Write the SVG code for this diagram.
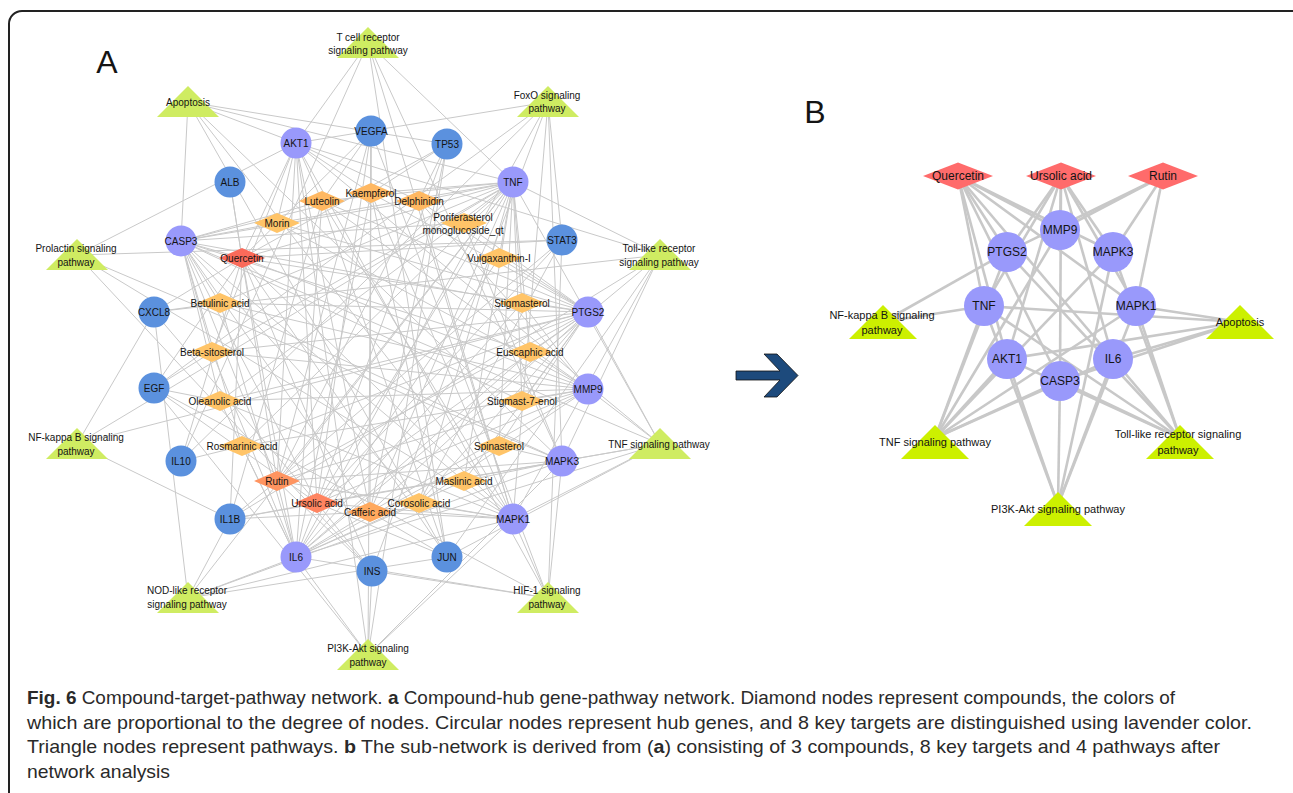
<svg xmlns="http://www.w3.org/2000/svg" xmlns:xlink="http://www.w3.org/1999/xlink" width="1293" height="793" viewBox="0 0 1293 793">
<style>
.e line{stroke:#c9c9c9;stroke-width:1}
.eb line{stroke:#c8c8c8;stroke-width:2.6}
.g{fill:#5b91de}.l{fill:#9999fb}.p{fill:#cfec62}.pb{fill:#ccf000}.cb{fill:#ff6b6b}
.c0{fill:#ffc468}.c1{fill:#ffb862}.c2{fill:#ffa95e}.c3{fill:#ff9460}.c4{fill:#ff8460}.c5{fill:#fa6a5a}
text{font-family:"Liberation Sans",Arial,sans-serif;fill:#141414;text-anchor:middle}
.a text{font-size:10px}
.b text{font-size:12px}
.b .pl{font-size:11px}
.cap{font-size:19px;fill:#2a2a2a;text-anchor:start}
</style>
<defs>
<polygon id="da" points="-23,0 0,-10 23,0 0,10"/>
<polygon id="ta" points="0,-16 31,15 -31,15"/>
<polygon id="db" points="-35,0 0,-13.5 35,0 0,13.5"/>
<polygon id="tb" points="0,-17 34,17 -34,17"/>
</defs>
<rect x="9" y="11" width="1300" height="800" rx="13" fill="#fff" stroke="#222" stroke-width="2"/>
<text x="107" y="73" style="font-size:32px">A</text>
<text x="815" y="123" style="font-size:32px">B</text>
<g id="connectors-A" class="e">
<line x1="368" y1="43" x2="296" y2="143"/><line x1="368" y1="43" x2="513" y2="182"/><line x1="368" y1="43" x2="181" y2="461"/><line x1="368" y1="43" x2="447" y2="557"/><line x1="368" y1="43" x2="513" y2="519"/><line x1="368" y1="43" x2="562" y2="461"/>
<line x1="188" y1="102" x2="296" y2="143"/><line x1="188" y1="102" x2="181" y2="241"/><line x1="188" y1="102" x2="513" y2="182"/><line x1="188" y1="102" x2="447" y2="144"/><line x1="188" y1="102" x2="447" y2="557"/><line x1="188" y1="102" x2="513" y2="519"/><line x1="188" y1="102" x2="562" y2="461"/>
<line x1="548" y1="102" x2="296" y2="143"/><line x1="548" y1="102" x2="154" y2="388"/><line x1="548" y1="102" x2="296" y2="557"/><line x1="548" y1="102" x2="181" y2="461"/><line x1="548" y1="102" x2="372" y2="571"/><line x1="548" y1="102" x2="513" y2="519"/><line x1="548" y1="102" x2="562" y2="461"/><line x1="548" y1="102" x2="562" y2="240"/>
<line x1="77" y1="255" x2="296" y2="143"/><line x1="77" y1="255" x2="562" y2="240"/><line x1="77" y1="255" x2="513" y2="519"/><line x1="77" y1="255" x2="562" y2="461"/><line x1="77" y1="255" x2="372" y2="571"/>
<line x1="77" y1="444" x2="154" y2="312"/><line x1="77" y1="444" x2="513" y2="182"/><line x1="77" y1="444" x2="588" y2="312"/><line x1="77" y1="444" x2="230" y2="519"/>
<line x1="660" y1="444" x2="513" y2="182"/><line x1="660" y1="444" x2="296" y2="557"/><line x1="660" y1="444" x2="230" y2="519"/><line x1="660" y1="444" x2="588" y2="312"/><line x1="660" y1="444" x2="588" y2="389"/><line x1="660" y1="444" x2="513" y2="519"/><line x1="660" y1="444" x2="562" y2="461"/><line x1="660" y1="444" x2="181" y2="241"/><line x1="660" y1="444" x2="296" y2="143"/><line x1="660" y1="444" x2="447" y2="557"/>
<line x1="660" y1="255" x2="513" y2="182"/><line x1="660" y1="255" x2="296" y2="557"/><line x1="660" y1="255" x2="230" y2="519"/><line x1="660" y1="255" x2="154" y2="312"/><line x1="660" y1="255" x2="296" y2="143"/><line x1="660" y1="255" x2="447" y2="557"/><line x1="660" y1="255" x2="513" y2="519"/><line x1="660" y1="255" x2="562" y2="461"/>
<line x1="188" y1="598" x2="154" y2="312"/><line x1="188" y1="598" x2="230" y2="519"/><line x1="188" y1="598" x2="513" y2="182"/><line x1="188" y1="598" x2="296" y2="557"/><line x1="188" y1="598" x2="513" y2="519"/><line x1="188" y1="598" x2="562" y2="461"/><line x1="188" y1="598" x2="447" y2="557"/>
<line x1="548" y1="598" x2="372" y2="571"/><line x1="548" y1="598" x2="513" y2="519"/><line x1="548" y1="598" x2="562" y2="461"/><line x1="548" y1="598" x2="296" y2="557"/><line x1="548" y1="598" x2="154" y2="388"/><line x1="548" y1="598" x2="562" y2="240"/><line x1="548" y1="598" x2="371" y2="131"/><line x1="548" y1="598" x2="296" y2="143"/>
<line x1="368" y1="655" x2="296" y2="143"/><line x1="368" y1="655" x2="372" y2="571"/><line x1="368" y1="655" x2="296" y2="557"/><line x1="368" y1="655" x2="154" y2="388"/><line x1="368" y1="655" x2="371" y2="131"/><line x1="368" y1="655" x2="513" y2="519"/><line x1="368" y1="655" x2="562" y2="461"/><line x1="368" y1="655" x2="447" y2="144"/>
<line x1="242" y1="258" x2="296" y2="143"/><line x1="242" y1="258" x2="371" y2="131"/><line x1="242" y1="258" x2="447" y2="144"/><line x1="242" y1="258" x2="513" y2="182"/><line x1="242" y1="258" x2="562" y2="240"/><line x1="242" y1="258" x2="588" y2="312"/><line x1="242" y1="258" x2="588" y2="389"/><line x1="242" y1="258" x2="513" y2="519"/><line x1="242" y1="258" x2="447" y2="557"/><line x1="242" y1="258" x2="296" y2="557"/><line x1="242" y1="258" x2="230" y2="519"/><line x1="242" y1="258" x2="181" y2="461"/><line x1="242" y1="258" x2="154" y2="388"/><line x1="242" y1="258" x2="154" y2="312"/><line x1="242" y1="258" x2="181" y2="241"/><line x1="242" y1="258" x2="230" y2="182"/><line x1="242" y1="258" x2="372" y2="571"/>
<line x1="317" y1="503" x2="296" y2="143"/><line x1="317" y1="503" x2="371" y2="131"/><line x1="317" y1="503" x2="447" y2="144"/><line x1="317" y1="503" x2="513" y2="182"/><line x1="317" y1="503" x2="562" y2="240"/><line x1="317" y1="503" x2="588" y2="312"/><line x1="317" y1="503" x2="588" y2="389"/><line x1="317" y1="503" x2="513" y2="519"/><line x1="317" y1="503" x2="562" y2="461"/><line x1="317" y1="503" x2="447" y2="557"/><line x1="317" y1="503" x2="296" y2="557"/><line x1="317" y1="503" x2="230" y2="519"/><line x1="317" y1="503" x2="181" y2="241"/><line x1="317" y1="503" x2="154" y2="312"/><line x1="317" y1="503" x2="372" y2="571"/><line x1="317" y1="503" x2="154" y2="388"/>
<line x1="277" y1="481" x2="296" y2="143"/><line x1="277" y1="481" x2="371" y2="131"/><line x1="277" y1="481" x2="513" y2="182"/><line x1="277" y1="481" x2="588" y2="312"/><line x1="277" y1="481" x2="588" y2="389"/><line x1="277" y1="481" x2="513" y2="519"/><line x1="277" y1="481" x2="562" y2="461"/><line x1="277" y1="481" x2="296" y2="557"/><line x1="277" y1="481" x2="230" y2="519"/><line x1="277" y1="481" x2="181" y2="241"/><line x1="277" y1="481" x2="230" y2="182"/><line x1="277" y1="481" x2="372" y2="571"/><line x1="277" y1="481" x2="447" y2="144"/><line x1="277" y1="481" x2="562" y2="240"/>
<line x1="370" y1="512" x2="513" y2="182"/><line x1="370" y1="512" x2="588" y2="312"/><line x1="370" y1="512" x2="588" y2="389"/><line x1="370" y1="512" x2="296" y2="557"/><line x1="370" y1="512" x2="230" y2="519"/><line x1="370" y1="512" x2="181" y2="241"/><line x1="370" y1="512" x2="513" y2="519"/><line x1="370" y1="512" x2="296" y2="143"/><line x1="370" y1="512" x2="447" y2="144"/><line x1="370" y1="512" x2="371" y2="131"/><line x1="370" y1="512" x2="447" y2="557"/>
<line x1="322" y1="201" x2="296" y2="143"/><line x1="322" y1="201" x2="513" y2="182"/><line x1="322" y1="201" x2="588" y2="312"/><line x1="322" y1="201" x2="588" y2="389"/><line x1="322" y1="201" x2="296" y2="557"/><line x1="322" y1="201" x2="181" y2="241"/><line x1="322" y1="201" x2="371" y2="131"/><line x1="322" y1="201" x2="513" y2="519"/><line x1="322" y1="201" x2="447" y2="557"/><line x1="322" y1="201" x2="230" y2="519"/>
<line x1="371" y1="193" x2="296" y2="143"/><line x1="371" y1="193" x2="513" y2="182"/><line x1="371" y1="193" x2="588" y2="312"/><line x1="371" y1="193" x2="181" y2="241"/><line x1="371" y1="193" x2="296" y2="557"/><line x1="371" y1="193" x2="371" y2="131"/><line x1="371" y1="193" x2="513" y2="519"/><line x1="371" y1="193" x2="447" y2="144"/><line x1="371" y1="193" x2="447" y2="557"/>
<line x1="419" y1="201" x2="296" y2="143"/><line x1="419" y1="201" x2="513" y2="182"/><line x1="419" y1="201" x2="588" y2="312"/><line x1="419" y1="201" x2="588" y2="389"/><line x1="419" y1="201" x2="181" y2="241"/><line x1="419" y1="201" x2="513" y2="519"/>
<line x1="277" y1="223" x2="181" y2="241"/><line x1="277" y1="223" x2="296" y2="143"/><line x1="277" y1="223" x2="513" y2="182"/><line x1="277" y1="223" x2="588" y2="389"/><line x1="277" y1="223" x2="588" y2="312"/>
<line x1="464" y1="223" x2="588" y2="312"/><line x1="464" y1="223" x2="513" y2="182"/><line x1="464" y1="223" x2="181" y2="241"/><line x1="464" y1="223" x2="562" y2="461"/>
<line x1="499" y1="258" x2="513" y2="182"/><line x1="499" y1="258" x2="588" y2="312"/><line x1="499" y1="258" x2="296" y2="557"/>
<line x1="522" y1="303" x2="588" y2="312"/><line x1="522" y1="303" x2="513" y2="182"/><line x1="522" y1="303" x2="296" y2="557"/><line x1="522" y1="303" x2="181" y2="241"/><line x1="522" y1="303" x2="588" y2="389"/>
<line x1="530" y1="352" x2="588" y2="312"/><line x1="530" y1="352" x2="588" y2="389"/><line x1="530" y1="352" x2="513" y2="182"/><line x1="530" y1="352" x2="296" y2="557"/><line x1="530" y1="352" x2="181" y2="241"/>
<line x1="522" y1="401" x2="588" y2="312"/><line x1="522" y1="401" x2="588" y2="389"/><line x1="522" y1="401" x2="181" y2="241"/><line x1="522" y1="401" x2="513" y2="182"/>
<line x1="499" y1="446" x2="588" y2="312"/><line x1="499" y1="446" x2="562" y2="461"/><line x1="499" y1="446" x2="513" y2="182"/><line x1="499" y1="446" x2="296" y2="557"/>
<line x1="464" y1="481" x2="588" y2="312"/><line x1="464" y1="481" x2="562" y2="461"/><line x1="464" y1="481" x2="513" y2="519"/><line x1="464" y1="481" x2="181" y2="241"/><line x1="464" y1="481" x2="513" y2="182"/><line x1="464" y1="481" x2="296" y2="557"/>
<line x1="419" y1="503" x2="588" y2="312"/><line x1="419" y1="503" x2="588" y2="389"/><line x1="419" y1="503" x2="513" y2="519"/><line x1="419" y1="503" x2="181" y2="241"/><line x1="419" y1="503" x2="513" y2="182"/><line x1="419" y1="503" x2="562" y2="240"/><line x1="419" y1="503" x2="296" y2="557"/>
<line x1="242" y1="446" x2="588" y2="312"/><line x1="242" y1="446" x2="513" y2="182"/><line x1="242" y1="446" x2="296" y2="557"/><line x1="242" y1="446" x2="588" y2="389"/><line x1="242" y1="446" x2="181" y2="241"/><line x1="242" y1="446" x2="181" y2="461"/>
<line x1="220" y1="401" x2="588" y2="312"/><line x1="220" y1="401" x2="154" y2="388"/><line x1="220" y1="401" x2="588" y2="389"/><line x1="220" y1="401" x2="513" y2="182"/><line x1="220" y1="401" x2="296" y2="557"/><line x1="220" y1="401" x2="181" y2="241"/><line x1="220" y1="401" x2="513" y2="519"/>
<line x1="212" y1="352" x2="588" y2="312"/><line x1="212" y1="352" x2="181" y2="241"/><line x1="212" y1="352" x2="513" y2="182"/><line x1="212" y1="352" x2="296" y2="557"/><line x1="212" y1="352" x2="296" y2="143"/><line x1="212" y1="352" x2="588" y2="389"/><line x1="212" y1="352" x2="154" y2="388"/>
<line x1="220" y1="303" x2="588" y2="312"/><line x1="220" y1="303" x2="181" y2="241"/><line x1="220" y1="303" x2="513" y2="182"/><line x1="220" y1="303" x2="588" y2="389"/><line x1="220" y1="303" x2="154" y2="312"/><line x1="220" y1="303" x2="296" y2="557"/><line x1="220" y1="303" x2="562" y2="461"/>
</g>
<g id="connectors-B" class="eb">
<line x1="958" y1="176" x2="1007" y2="252"/><line x1="958" y1="176" x2="1060" y2="230"/><line x1="958" y1="176" x2="984" y2="306"/><line x1="958" y1="176" x2="1007" y2="359"/><line x1="958" y1="176" x2="1060" y2="381"/><line x1="958" y1="176" x2="1136" y2="306"/><line x1="958" y1="176" x2="1113" y2="252"/><line x1="958" y1="176" x2="1113" y2="359"/>
<line x1="1061" y1="176" x2="1007" y2="252"/><line x1="1061" y1="176" x2="984" y2="306"/><line x1="1061" y1="176" x2="1060" y2="230"/><line x1="1061" y1="176" x2="1060" y2="381"/><line x1="1061" y1="176" x2="1113" y2="252"/><line x1="1061" y1="176" x2="1136" y2="306"/><line x1="1061" y1="176" x2="1113" y2="359"/><line x1="1061" y1="176" x2="1007" y2="359"/>
<line x1="1163" y1="176" x2="1007" y2="252"/><line x1="1163" y1="176" x2="1060" y2="230"/><line x1="1163" y1="176" x2="1113" y2="252"/><line x1="1163" y1="176" x2="1136" y2="306"/>
<line x1="883" y1="322" x2="1007" y2="252"/><line x1="883" y1="322" x2="984" y2="306"/>
<line x1="1240" y1="322" x2="984" y2="306"/><line x1="1240" y1="322" x2="1136" y2="306"/><line x1="1240" y1="322" x2="1007" y2="359"/><line x1="1240" y1="322" x2="1113" y2="359"/><line x1="1240" y1="322" x2="1060" y2="381"/>
<line x1="935" y1="438" x2="984" y2="306"/><line x1="935" y1="438" x2="1007" y2="252"/><line x1="935" y1="438" x2="1007" y2="359"/><line x1="935" y1="438" x2="1060" y2="381"/><line x1="935" y1="438" x2="1113" y2="359"/><line x1="935" y1="438" x2="1136" y2="306"/><line x1="935" y1="438" x2="1113" y2="252"/><line x1="935" y1="438" x2="1060" y2="230"/>
<line x1="1180" y1="438" x2="984" y2="306"/><line x1="1180" y1="438" x2="1007" y2="252"/><line x1="1180" y1="438" x2="1007" y2="359"/><line x1="1180" y1="438" x2="1060" y2="381"/><line x1="1180" y1="438" x2="1113" y2="359"/><line x1="1180" y1="438" x2="1136" y2="306"/><line x1="1180" y1="438" x2="1113" y2="252"/>
<line x1="1058" y1="505" x2="1007" y2="359"/><line x1="1058" y1="505" x2="1113" y2="359"/><line x1="1058" y1="505" x2="1136" y2="306"/><line x1="1058" y1="505" x2="1113" y2="252"/><line x1="1058" y1="505" x2="1060" y2="381"/><line x1="1058" y1="505" x2="984" y2="306"/>
</g>
<g class="a">
<g id="A-tcell"><use xlink:href="#ta" x="368" y="43" class="p"/><text x="368"><tspan x="368" y="40.5">T cell receptor</tspan><tspan x="368" y="53.5">signaling pathway</tspan></text></g>
<g id="A-apoptosis"><use xlink:href="#ta" x="188" y="102" class="p"/><text x="188" y="105.5">Apoptosis</text></g>
<g id="A-foxo"><use xlink:href="#ta" x="548" y="102" class="p"/><text><tspan x="547" y="98.5">FoxO signaling</tspan><tspan x="547" y="111.5">pathway</tspan></text></g>
<g id="A-prolactin"><use xlink:href="#ta" x="77" y="255" class="p"/><text><tspan x="76" y="251.5">Prolactin signaling</tspan><tspan x="76" y="265.5">pathway</tspan></text></g>
<g id="A-toll"><use xlink:href="#ta" x="660" y="255" class="p"/><text><tspan x="659" y="251.5">Toll-like receptor</tspan><tspan x="659" y="265.5">signaling pathway</tspan></text></g>
<g id="A-nfkb"><use xlink:href="#ta" x="77" y="444" class="p"/><text><tspan x="76" y="440.5">NF-kappa B signaling</tspan><tspan x="76" y="454.5">pathway</tspan></text></g>
<g id="A-tnfpath"><use xlink:href="#ta" x="660" y="444" class="p"/><text x="659" y="447.5">TNF signaling pathway</text></g>
<g id="A-nod"><use xlink:href="#ta" x="188" y="598" class="p"/><text><tspan x="187" y="593.5">NOD-like receptor</tspan><tspan x="187" y="607.5">signaling pathway</tspan></text></g>
<g id="A-hif1"><use xlink:href="#ta" x="548" y="598" class="p"/><text><tspan x="547" y="593.5">HIF-1 signaling</tspan><tspan x="547" y="607.5">pathway</tspan></text></g>
<g id="A-pi3k"><use xlink:href="#ta" x="368" y="655" class="p"/><text><tspan x="368" y="651.5">PI3K-Akt signaling</tspan><tspan x="368" y="665.5">pathway</tspan></text></g>
<g id="A-AKT1"><circle cx="296" cy="143" r="15.5" class="l"/><text x="296" y="146.5">AKT1</text></g>
<g id="A-VEGFA"><circle cx="371" cy="131" r="15.5" class="g"/><text x="371" y="134.5">VEGFA</text></g>
<g id="A-TP53"><circle cx="447" cy="144" r="15.5" class="g"/><text x="447" y="147.5">TP53</text></g>
<g id="A-TNF"><circle cx="513" cy="182" r="15.5" class="l"/><text x="513" y="185.5">TNF</text></g>
<g id="A-STAT3"><circle cx="562" cy="240" r="15.5" class="g"/><text x="562" y="243.5">STAT3</text></g>
<g id="A-PTGS2"><circle cx="588" cy="312" r="15.5" class="l"/><text x="588" y="315.5">PTGS2</text></g>
<g id="A-MMP9"><circle cx="588" cy="389" r="15.5" class="l"/><text x="588" y="392.5">MMP9</text></g>
<g id="A-MAPK3"><circle cx="562" cy="461" r="15.5" class="l"/><text x="562" y="464.5">MAPK3</text></g>
<g id="A-MAPK1"><circle cx="513" cy="519" r="15.5" class="l"/><text x="513" y="522.5">MAPK1</text></g>
<g id="A-JUN"><circle cx="447" cy="557" r="15.5" class="g"/><text x="447" y="560.5">JUN</text></g>
<g id="A-INS"><circle cx="372" cy="571" r="15.5" class="g"/><text x="372" y="574.5">INS</text></g>
<g id="A-IL6"><circle cx="296" cy="557" r="15.5" class="l"/><text x="296" y="560.5">IL6</text></g>
<g id="A-IL1B"><circle cx="230" cy="519" r="15.5" class="g"/><text x="230" y="522.5">IL1B</text></g>
<g id="A-IL10"><circle cx="181" cy="461" r="15.5" class="g"/><text x="181" y="464.5">IL10</text></g>
<g id="A-EGF"><circle cx="154" cy="388" r="15.5" class="g"/><text x="154" y="391.5">EGF</text></g>
<g id="A-CXCL8"><circle cx="154" cy="312" r="15.5" class="g"/><text x="154" y="315.5">CXCL8</text></g>
<g id="A-CASP3"><circle cx="181" cy="241" r="15.5" class="l"/><text x="181" y="244.5">CASP3</text></g>
<g id="A-ALB"><circle cx="230" cy="182" r="15.5" class="g"/><text x="230" y="185.5">ALB</text></g>
<g id="A-Quercetin"><use xlink:href="#da" x="242" y="258" class="c5"/><text x="242" y="261.5">Quercetin</text></g>
<g id="A-Morin"><use xlink:href="#da" x="277" y="223" class="c0"/><text x="277" y="226.5">Morin</text></g>
<g id="A-Luteolin"><use xlink:href="#da" x="322" y="201" class="c1"/><text x="322" y="204.5">Luteolin</text></g>
<g id="A-Kaempferol"><use xlink:href="#da" x="371" y="193" class="c1"/><text x="371" y="196.5">Kaempferol</text></g>
<g id="A-Delphinidin"><use xlink:href="#da" x="419" y="201" class="c1"/><text x="419" y="204.5">Delphinidin</text></g>
<g id="A-Poriferasterol"><use xlink:href="#da" x="464" y="223" class="c0"/><text><tspan x="463" y="220.5">Poriferasterol</tspan><tspan x="463" y="233.5">monoglucoside_qt</tspan></text></g>
<g id="A-Vulgaxanthin"><use xlink:href="#da" x="499" y="258" class="c0"/><text x="499" y="261.5">Vulgaxanthin-I</text></g>
<g id="A-Stigmasterol"><use xlink:href="#da" x="522" y="303" class="c0"/><text x="522" y="306.5">Stigmasterol</text></g>
<g id="A-Euscaphic"><use xlink:href="#da" x="530" y="352" class="c0"/><text x="530" y="355.5">Euscaphic acid</text></g>
<g id="A-Stigmast7"><use xlink:href="#da" x="522" y="401" class="c0"/><text x="522" y="404.5">Stigmast-7-enol</text></g>
<g id="A-Spinasterol"><use xlink:href="#da" x="499" y="446" class="c0"/><text x="499" y="449.5">Spinasterol</text></g>
<g id="A-Maslinic"><use xlink:href="#da" x="464" y="481" class="c0"/><text x="464" y="484.5">Maslinic acid</text></g>
<g id="A-Corosolic"><use xlink:href="#da" x="419" y="503" class="c0"/><text x="419" y="506.5">Corosolic acid</text></g>
<g id="A-Caffeic"><use xlink:href="#da" x="370" y="512" class="c2"/><text x="370" y="515.5">Caffeic acid</text></g>
<g id="A-Ursolic"><use xlink:href="#da" x="317" y="503" class="c4"/><text x="317" y="506.5">Ursolic acid</text></g>
<g id="A-Rutin"><use xlink:href="#da" x="277" y="481" class="c3"/><text x="277" y="484.5">Rutin</text></g>
<g id="A-Rosmarinic"><use xlink:href="#da" x="242" y="446" class="c0"/><text x="242" y="449.5">Rosmarinic acid</text></g>
<g id="A-Oleanolic"><use xlink:href="#da" x="220" y="401" class="c0"/><text x="220" y="404.5">Oleanolic acid</text></g>
<g id="A-Betasitosterol"><use xlink:href="#da" x="212" y="352" class="c0"/><text x="212" y="355.5">Beta-sitosterol</text></g>
<g id="A-Betulinic"><use xlink:href="#da" x="220" y="303" class="c0"/><text x="220" y="306.5">Betulinic acid</text></g>
</g>
<g id="arrow"><polygon points="736,371 780,371 764,354 777,354 798,375.5 777,397 764,397 780,380 736,380" fill="#1d4a7c" stroke="#111" stroke-width="0.8"/></g>
<g class="b">
<g id="B-Quercetin"><use xlink:href="#db" x="958" y="176" class="cb"/><text x="958" y="180.2">Quercetin</text></g>
<g id="B-Ursolic"><use xlink:href="#db" x="1061" y="176" class="cb"/><text x="1061" y="180.2">Ursolic acid</text></g>
<g id="B-Rutin"><use xlink:href="#db" x="1163" y="176" class="cb"/><text x="1163" y="180.2">Rutin</text></g>
<g id="B-MMP9"><circle cx="1060" cy="230" r="20" class="l"/><text x="1060" y="234.2">MMP9</text></g>
<g id="B-PTGS2"><circle cx="1007" cy="252" r="20" class="l"/><text x="1007" y="256.2">PTGS2</text></g>
<g id="B-MAPK3"><circle cx="1113" cy="252" r="20" class="l"/><text x="1113" y="256.2">MAPK3</text></g>
<g id="B-TNF"><circle cx="984" cy="306" r="20" class="l"/><text x="984" y="310.2">TNF</text></g>
<g id="B-MAPK1"><circle cx="1136" cy="306" r="20" class="l"/><text x="1136" y="310.2">MAPK1</text></g>
<g id="B-AKT1"><circle cx="1007" cy="359" r="20" class="l"/><text x="1007" y="363.2">AKT1</text></g>
<g id="B-IL6"><circle cx="1113" cy="359" r="20" class="l"/><text x="1113" y="363.2">IL6</text></g>
<g id="B-CASP3"><circle cx="1060" cy="381" r="20" class="l"/><text x="1060" y="385.2">CASP3</text></g>
<g id="B-nfkb"><use xlink:href="#tb" x="883" y="322" class="pb"/><text class="pl"><tspan x="882" y="319">NF-kappa B signaling</tspan><tspan x="882" y="334">pathway</tspan></text></g>
<g id="B-apoptosis"><use xlink:href="#tb" x="1240" y="322" class="pb"/><text class="pl" x="1240" y="326">Apoptosis</text></g>
<g id="B-tnfpath"><use xlink:href="#tb" x="935" y="442" class="pb"/><text class="pl" x="935" y="446">TNF signaling pathway</text></g>
<g id="B-toll"><use xlink:href="#tb" x="1180" y="442" class="pb"/><text class="pl"><tspan x="1178" y="438">Toll-like receptor signaling</tspan><tspan x="1178" y="454">pathway</tspan></text></g>
<g id="B-pi3k"><use xlink:href="#tb" x="1058" y="509" class="pb"/><text class="pl" x="1058" y="513">PI3K-Akt signaling pathway</text></g>
</g>
<g id="caption">
<text class="cap" x="27" y="704" textLength="1148" lengthAdjust="spacingAndGlyphs"><tspan font-weight="bold">Fig. 6</tspan> Compound-target-pathway network. <tspan font-weight="bold">a</tspan> Compound-hub gene-pathway network. Diamond nodes represent compounds, the colors of</text>
<text class="cap" x="27" y="729" textLength="1225" lengthAdjust="spacingAndGlyphs">which are proportional to the degree of nodes. Circular nodes represent hub genes, and 8 key targets are distinguished using lavender color.</text>
<text class="cap" x="27" y="753" textLength="1193" lengthAdjust="spacingAndGlyphs">Triangle nodes represent pathways. <tspan font-weight="bold">b</tspan> The sub-network is derived from (<tspan font-weight="bold">a</tspan>) consisting of 3 compounds, 8 key targets and 4 pathways after</text>
<text class="cap" x="27" y="778" textLength="143" lengthAdjust="spacingAndGlyphs">network analysis</text>
</g>
</svg>
